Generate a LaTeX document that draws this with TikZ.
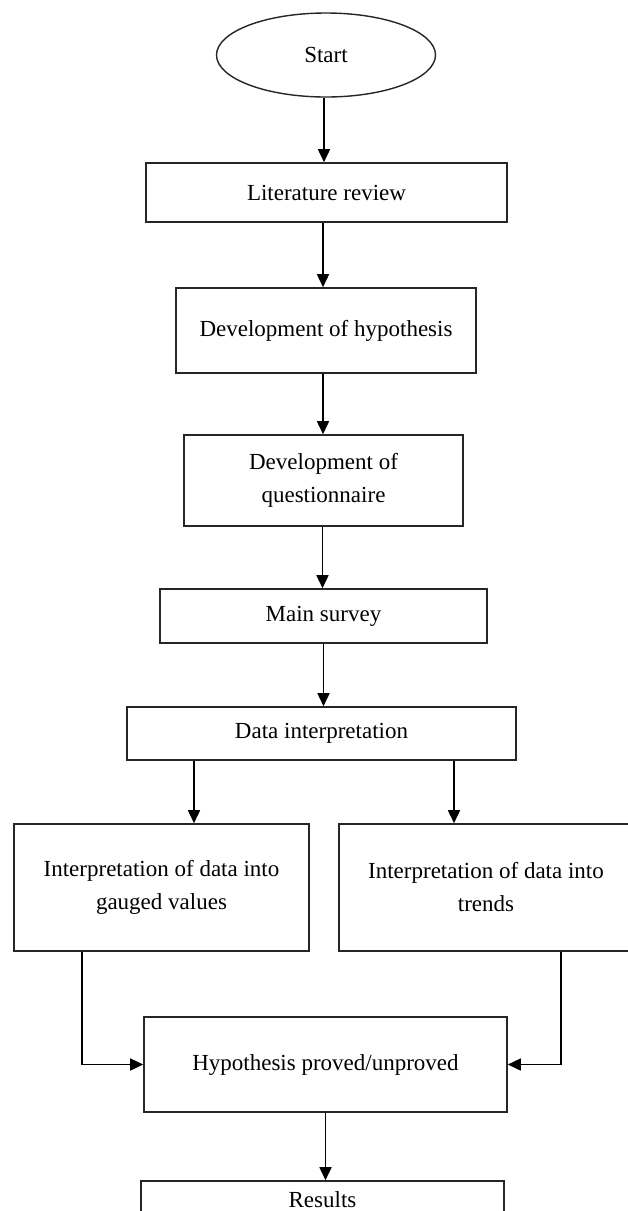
\documentclass[tikz,border=0pt]{standalone}
\usepackage{fontspec}
\setmainfont{Liberation Serif}
\usetikzlibrary{shapes.geometric,arrows.meta}
\begin{document}
\begin{tikzpicture}[x=1pt,y=-1pt,
  every node/.style={font=\fontsize{23}{33}\selectfont, text=black},
  box/.style={draw=black!85, line width=1.6pt, rectangle, inner sep=0pt, align=center},
  oval/.style={draw=black!85, line width=1.4pt, ellipse, inner sep=0pt, minimum width=219pt, minimum height=84pt},
  arr/.style={draw=black, line width=1.6pt, -{Triangle[length=13pt,width=12pt]}}]
\clip (0,0) rectangle (628,1211);
\fill[white] (0,0) rectangle (628,1211);
% nodes
\node[oval] (start) at (326,55) {Start};
\node[box, minimum width=361pt, minimum height=59pt] (lit) at (326.5,192.5) {Literature review};
\node[box, minimum width=300pt, minimum height=85pt] (hyp) at (326,330.5) {Development of hypothesis};
\node[box, minimum width=279pt, minimum height=91pt] (quest) at (323.5,480.5) {Development of\\questionnaire};
\node[box, minimum width=327pt, minimum height=54pt] (survey) at (323.5,616) {Main survey};
\node[box, minimum width=389pt, minimum height=53pt] (data) at (321.5,733.5) {Data interpretation};
\node[box, minimum width=295pt, minimum height=127pt] (gauged) at (161.5,887.5) {Interpretation of data into\\gauged values};
\node[box, minimum width=294pt, minimum height=127pt] (trends) at (486,887.5) {Interpretation of data into\\trends};
\node[box, minimum width=363pt, minimum height=95pt] (proved) at (325.5,1064.5) {Hypothesis proved/unproved};
\node[box, minimum width=363pt, minimum height=38pt] (results) at (322.5,1200) {Results};
% connectors
\draw[arr] ([xshift=-2pt]start.south) -- ([xshift=-2pt]start.south |- lit.north);
\draw[arr] ([xshift=-3.5pt]lit.south) -- ([xshift=-3.5pt]lit.south |- hyp.north);
\draw[arr] ([xshift=-3pt]hyp.south) -- ([xshift=-3pt]hyp.south |- quest.north);
\draw[arr] ([xshift=-1pt]quest.south) -- ([xshift=-1pt]quest.south |- survey.north);
\draw[arr] (survey.south) -- (survey.south |- data.north);
\draw[arr] ([xshift=-127.5pt]data.south) -- ([xshift=-127.5pt]data.south |- gauged.north);
\draw[arr] ([xshift=132.5pt]data.south) -- ([xshift=132.5pt]data.south |- trends.north);
\draw[arr] ([xshift=-79.5pt]gauged.south) |- (proved.west);
\draw[arr] ([xshift=75pt]trends.south) |- (proved.east);
\draw[arr] (proved.south) -- (proved.south |- results.north);
\end{tikzpicture}
\end{document}
